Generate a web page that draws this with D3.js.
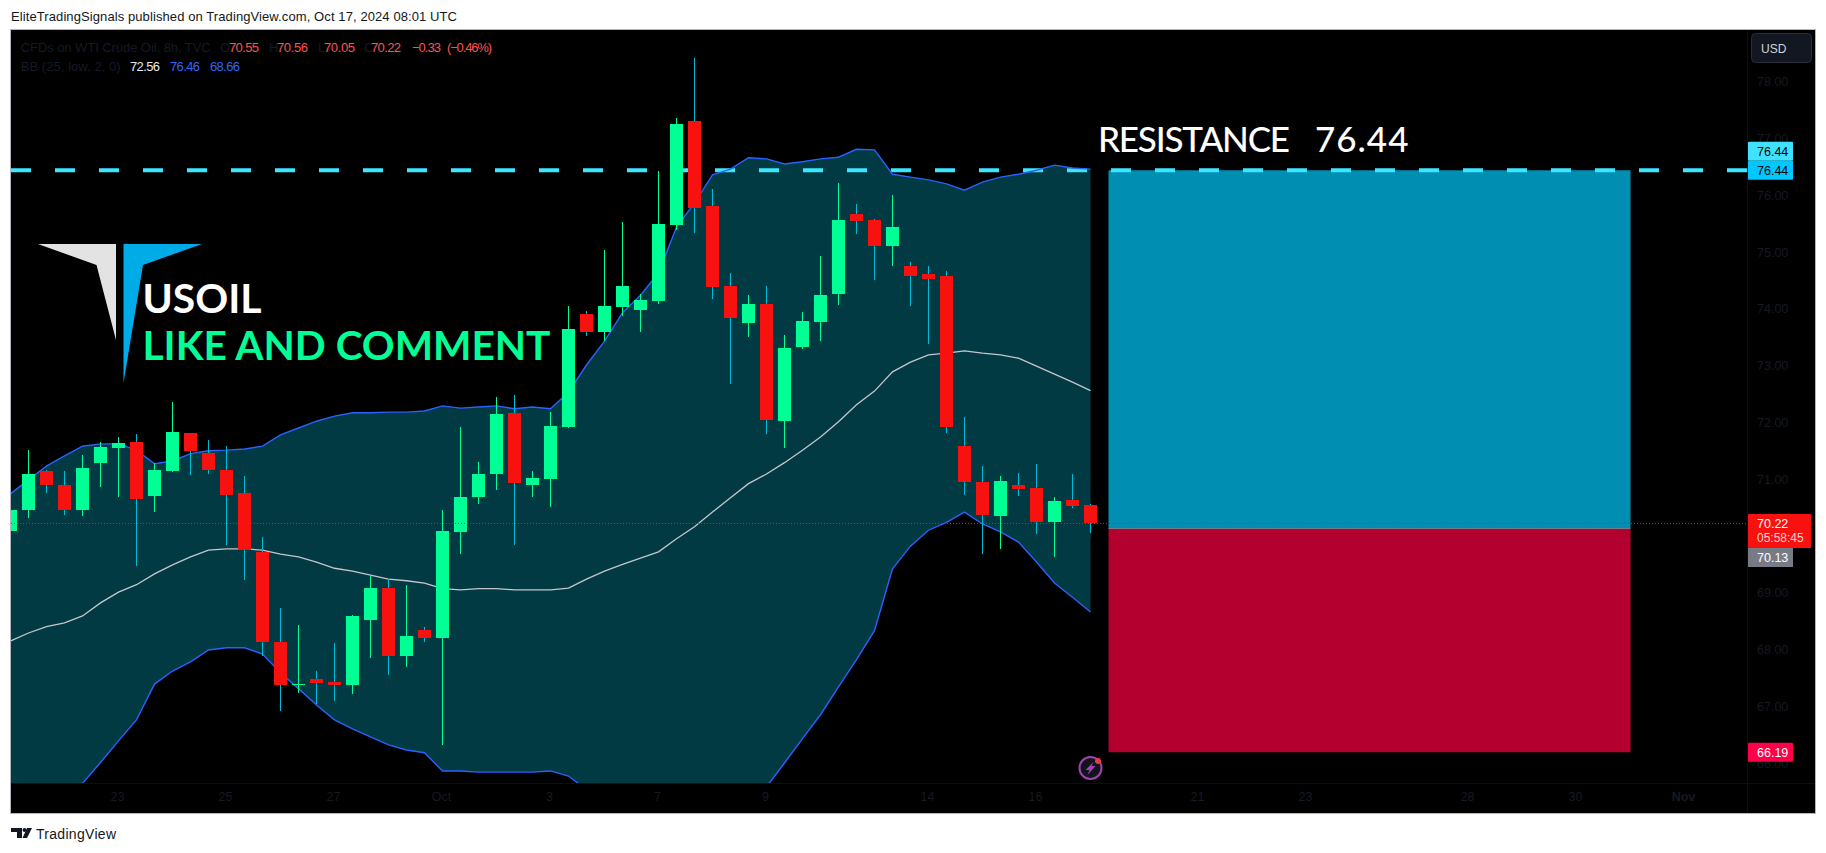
<!DOCTYPE html>
<html><head><meta charset="utf-8">
<script src="https://cdn.jsdelivr.net/npm/d3@7"></script>
<style>html,body{margin:0;padding:0;background:#fff;overflow:hidden}svg{display:block}text{font-family:"Liberation Sans",sans-serif}</style>
</head><body><svg id="c" width="1826" height="853"></svg>
<script>
const opens=[70.09,70.46,71.14,70.90,70.46,71.29,71.55,71.66,70.70,71.14,71.81,71.46,71.16,70.76,69.72,68.13,67.37,67.48,67.43,67.37,68.52,69.08,67.89,68.34,68.20,70.07,70.69,71.09,72.17,70.90,71.00,71.92,73.91,73.59,74.03,73.98,74.14,75.48,77.31,75.81,74.40,73.75,74.08,72.02,73.33,73.77,74.26,75.67,75.57,75.11,74.76,74.62,74.57,71.58,70.95,70.35,70.90,70.85,70.25,70.63,70.55];
const highs=[70.50,71.51,71.16,71.14,71.43,71.66,71.74,71.80,71.29,72.36,71.82,71.69,71.58,71.06,69.98,68.73,68.43,67.62,68.12,68.61,69.29,69.24,69.14,68.40,70.46,71.92,71.30,72.45,72.48,71.14,72.18,74.05,73.96,75.04,75.53,74.26,76.43,77.36,78.42,76.11,74.63,74.24,74.41,73.54,73.95,74.93,76.21,75.85,75.58,76.00,74.83,74.76,74.67,72.09,71.23,71.06,71.11,71.27,70.69,71.09,70.56];
const lows=[70.05,70.32,70.76,70.37,70.35,70.86,70.69,69.47,70.42,71.13,71.07,71.09,69.84,69.22,67.89,66.92,67.23,67.04,67.09,67.22,67.85,67.55,67.69,68.13,66.32,69.68,70.56,70.81,69.84,70.69,70.51,71.90,73.52,73.44,73.87,73.59,74.08,75.39,75.34,74.17,72.68,73.51,71.80,71.55,73.29,73.43,74.07,75.32,74.50,74.76,74.05,73.38,71.81,70.72,69.68,69.77,70.70,70.04,69.63,70.49,70.05];
const closes=[70.46,71.09,70.90,70.46,71.20,71.57,71.64,70.65,71.16,71.83,71.50,71.16,70.72,69.75,68.13,67.37,67.39,67.41,67.37,68.59,69.08,67.89,68.24,68.20,70.09,70.69,71.09,72.15,70.93,71.02,71.94,73.65,73.59,74.05,74.40,74.16,75.49,77.26,75.78,74.38,73.84,74.08,72.04,73.31,73.79,74.24,75.57,75.55,75.11,75.44,74.58,74.53,71.92,70.95,70.37,70.97,70.83,70.25,70.62,70.53,70.22];
const bbUpper=[70.74,70.99,71.23,71.41,71.58,71.62,71.62,71.51,71.27,71.32,71.45,71.50,71.51,71.53,71.58,71.78,71.90,72.02,72.11,72.17,72.17,72.18,72.18,72.20,72.29,72.25,72.27,72.29,72.24,72.27,72.24,72.53,73.01,73.43,73.93,74.24,74.63,75.44,75.86,76.36,76.46,76.66,76.64,76.55,76.59,76.64,76.67,76.81,76.80,76.37,76.32,76.27,76.20,76.09,76.23,76.32,76.37,76.44,76.53,76.48,76.46];
const bbMid=[68.15,68.29,68.40,68.47,68.59,68.82,69.01,69.14,69.33,69.49,69.63,69.75,69.77,69.77,69.75,69.68,69.63,69.54,69.43,69.38,69.31,69.24,69.21,69.17,69.07,69.05,69.07,69.07,69.05,69.05,69.05,69.08,69.24,69.38,69.50,69.61,69.72,69.95,70.16,70.42,70.67,70.92,71.09,71.29,71.51,71.74,72.01,72.31,72.55,72.89,73.06,73.19,73.22,73.26,73.22,73.19,73.13,72.99,72.85,72.71,72.56];
const bbLower=[64.17,64.54,64.91,65.27,65.64,66.01,66.39,66.76,67.39,67.62,67.78,67.99,68.03,68.03,67.92,67.59,67.31,67.02,66.76,66.60,66.46,66.32,66.23,66.18,65.86,65.86,65.84,65.84,65.84,65.84,65.86,65.77,65.53,65.18,64.83,64.56,64.30,64.12,64.30,64.65,65.00,65.36,65.58,66.00,66.43,66.85,67.34,67.82,68.33,69.42,69.82,70.10,70.24,70.42,70.21,70.07,69.89,69.54,69.17,68.92,68.66];
const priceTicks=[78,77,76,75,74,73,72,71,69,68,67,66];
const timeTickBars=[6,12,18,24,30,36,42,51,57,66,72,81,87,93];
const timeTickLabels=["23","25","27","Oct","3","7","9","14","16","21","23","28","30","Nov"];
const resistance=76.44, positionEntry=70.13, positionStop=66.19, lastClose=70.22;
const positionBars=[61,90];
const headerText="EliteTradingSignals published on TradingView.com, Oct 17, 2024 08:01 UTC";

const up="#00ff95",down="#f7120f",upWick="#00ff95",downWick="#00bcd4",dark="#161a24";
const svg=d3.select("#c");
const L=11,R=1815,T=30,B=813,AX=1747,AY=783;
const x=d3.scaleLinear().domain([0,1]).range([10.5,28.5]);
const y=d3.scaleLinear().domain([78,66]).range([81.7,763]);
const bars=d3.range(opens.length);

svg.append("rect").attr("x",L-.5).attr("y",T-.5).attr("width",R-L+1).attr("height",B-T+1).attr("fill","#000").attr("stroke","#b2b5be");
const defs=svg.append("defs");
defs.append("clipPath").attr("id","pane").append("rect").attr("x",L).attr("y",T).attr("width",AX-L).attr("height",AY-T);
const pane=svg.append("g").attr("clip-path","url(#pane)");

// Bollinger fill
pane.append("path").datum(bars).attr("fill","#023a43")
 .attr("d",d3.area().x(i=>x(i)).y0(i=>y(bbLower[i])).y1(i=>y(bbUpper[i])));

// position box
const pxL=x(positionBars[0]),pxR=x(positionBars[1]);
pane.append("rect").attr("x",pxL).attr("width",pxR-pxL).attr("y",y(resistance)).attr("height",y(positionEntry)-y(resistance)).attr("fill","#008fb3");
pane.append("rect").attr("x",pxL).attr("width",pxR-pxL).attr("y",y(positionEntry)).attr("height",y(positionStop)-y(positionEntry)).attr("fill","#b4002f");
pane.append("line").attr("x1",pxL).attr("x2",pxR).attr("y1",y(positionEntry)).attr("y2",y(positionEntry)).attr("stroke","#787b86").attr("stroke-width",1);

// resistance dashed line
pane.append("line").attr("x1",L).attr("x2",AX).attr("y1",y(resistance)).attr("y2",y(resistance))
 .attr("stroke","#3de6ff").attr("stroke-width",4).attr("stroke-dasharray","20 24");

// bands
const line=a=>d3.line().x(i=>x(i)).y(i=>y(a[i]));
pane.append("path").datum(bars).attr("d",line(bbUpper)).attr("fill","none").attr("stroke","#2962ff").attr("stroke-width",1.4);
pane.append("path").datum(bars).attr("d",line(bbLower)).attr("fill","none").attr("stroke","#2962ff").attr("stroke-width",1.4);
pane.append("path").datum(bars).attr("d",line(bbMid)).attr("fill","none").attr("stroke","#c4c6cc").attr("stroke-width",1.3);

// candles
const g=pane.append("g").attr("shape-rendering","crispEdges");
g.selectAll(".w").data(bars).join("rect").attr("class","w")
 .attr("x",i=>x(i)-.5).attr("width",1).attr("y",i=>y(highs[i])).attr("height",i=>y(lows[i])-y(highs[i]))
 .attr("fill",i=>closes[i]>=opens[i]?upWick:downWick);
g.selectAll(".b").data(bars).join("rect").attr("class","b")
 .attr("x",i=>x(i)-6.5).attr("width",13)
 .attr("y",i=>y(Math.max(opens[i],closes[i])))
 .attr("height",i=>Math.max(1,Math.abs(y(opens[i])-y(closes[i]))))
 .attr("fill",i=>closes[i]>=opens[i]?up:down);

// last price line
pane.append("line").attr("x1",L).attr("x2",AX).attr("y1",y(lastClose)).attr("y2",y(lastClose))
 .attr("stroke","#e02020").attr("stroke-width",1).attr("stroke-dasharray","1 2");

// drawn logo
pane.append("polygon").attr("points","38,244 116,244 116,340 96.5,265").attr("fill","#e3e3e3");
pane.append("polygon").attr("points","123.5,244 202,244 143,265 123.5,383").attr("fill","#00ace8");
pane.append("text").attr("x",142.5).attr("y",313).attr("fill","#fff").attr("textLength",119).attr("lengthAdjust","spacingAndGlyphs")
 .style("font-family","Lato").style("font-size","41px").style("font-weight",700).text("USOIL");
pane.append("text").attr("x",142.5).attr("y",359.5).attr("fill",up).attr("textLength",408).attr("lengthAdjust","spacingAndGlyphs")
 .style("font-family","Lato").style("font-size","41px").style("font-weight",700).text("LIKE AND COMMENT");
const res=pane.append("text").attr("y",152).attr("fill","#fff").attr("xml:space","preserve")
 .style("white-space","pre").style("font-family","Lato").style("font-size","35px").style("font-weight",500);
res.append("tspan").attr("x",1098).style("letter-spacing","-1.2px").text("RESISTANCE  ");
res.append("tspan").attr("x",1315).style("letter-spacing","1px").text("76.44");

// lightning icon
const ic=pane.append("g").attr("transform","translate(1090.5,768)");
ic.append("circle").attr("r",11).attr("fill","#12141c").attr("stroke","#a143b5").attr("stroke-width",2);
ic.append("polygon").attr("points","3,-6 -5,2 -1,2 -3,7 5,-2 1,-2").attr("fill","#a143b5");
ic.append("circle").attr("cx",7.5).attr("cy",-7).attr("r",3).attr("fill","#f23645");

// axes
svg.append("line").attr("x1",L).attr("x2",R).attr("y1",AY+.5).attr("y2",AY+.5).attr("stroke","#0e0f13");
svg.append("line").attr("x1",AX+.5).attr("x2",AX+.5).attr("y1",T).attr("y2",B).attr("stroke","#0e0f13");
const px=d3.axisRight(y).tickValues(priceTicks).tickSize(0).tickPadding(10).tickFormat(d3.format(".2f"));
const pa=svg.append("g").attr("transform",`translate(${AX},0)`).call(px);
pa.select(".domain").remove();
pa.selectAll("text").attr("fill",dark).style("font-size","12.5px");
const tx=d3.axisBottom(x).tickValues(timeTickBars).tickSize(0).tickPadding(9).tickFormat((d,i)=>timeTickLabels[i]);
const ta=svg.append("g").attr("transform",`translate(-1.5,${AY})`).call(tx);
ta.select(".domain").remove();
ta.selectAll("text").attr("fill",dark).style("font-size","12.5px").style("font-weight",(d,i)=>timeTickLabels[i]==="Nov"?700:400);

// price tags
const tag=(p,h,w,bg,fg,t,t2)=>{
 const yy=y(p);const top=t2?yy-9.5:yy-h/2;
 svg.append("rect").attr("x",AX+1).attr("y",top).attr("width",w).attr("height",h).attr("rx",1).attr("fill",bg);
 svg.append("text").attr("x",AX+10).attr("y",top+14).attr("fill",fg).style("font-size","12.5px").text(t);
 if(t2) svg.append("text").attr("x",AX+10).attr("y",top+28).attr("fill","#fbd0d0").style("font-size","12px").text(t2);
};
tag(resistance+.335,19,45,"#40e0ff","#000","76.44");
tag(resistance,19,45,"#00c8ff","#000","76.44");
tag(lastClose,34,63,down,"#fff","70.22","05:58:45");
svg.append("rect").attr("x",AX+1).attr("y",548).attr("width",45).attr("height",19).attr("fill","#787b86");
svg.append("text").attr("x",AX+10).attr("y",562).attr("fill","#fff").style("font-size","12.5px").text(positionEntry.toFixed(2));
tag(positionStop,19,45,"#ff0049","#fff","66.19");

// USD button
svg.append("rect").attr("x",1751.5).attr("y",33.5).attr("width",60).attr("height",29).attr("rx",4).attr("fill","#131722").attr("stroke","#2a2e39");
svg.append("text").attr("x",1761).attr("y",53).attr("fill","#d1d4dc").style("font-size","12px").text("USD");

// legend
const lg=(t,xx,yy,c,w)=>{const s=svg.append("text").attr("x",xx).attr("y",yy).attr("fill",c).style("font-size","13px").text(t);if(w)s.attr("textLength",w);};
const leg1=51.5,leg2=70.5,red="#ff5252",bl="#2f66f5";
lg("CFDs on WTI Crude Oil, 8h, TVC",20.7,leg1,dark,190);
lg("O",220,leg1,dark);lg("70.55",229,leg1,red,30);
lg("H",269,leg1,dark);lg("70.56",277,leg1,red,31);
lg("L",318,leg1,dark);lg("70.05",324,leg1,red,31);
lg("C",364,leg1,dark);lg("70.22",371,leg1,red,30);
lg("−0.33",412,leg1,red,29);lg("(−0.46%)",447,leg1,red,45);
lg("BB (25, low, 2, 0)",20.7,leg2,dark,100);
lg("72.56",130,leg2,"#e8e8e8",30);lg("76.46",170,leg2,bl,30);lg("68.66",210,leg2,bl,30);

// header & footer
svg.append("text").attr("x",11).attr("y",21).attr("fill","#131722").attr("textLength",446).style("font-size","13px").text(headerText);
const f=svg.append("g").attr("fill","#131722");
f.append("polygon").attr("points","11,828 22,828 22,838 17,838 17,832 11,832");
f.append("circle").attr("cx",24.5).attr("cy",830).attr("r",2);
f.append("polygon").attr("points","27,828 32,828 27,838 22.5,838");
svg.append("text").attr("x",36).attr("y",839).attr("fill","#131722").attr("textLength",80).style("font-size","14px").text("TradingView");
</script></body></html>
